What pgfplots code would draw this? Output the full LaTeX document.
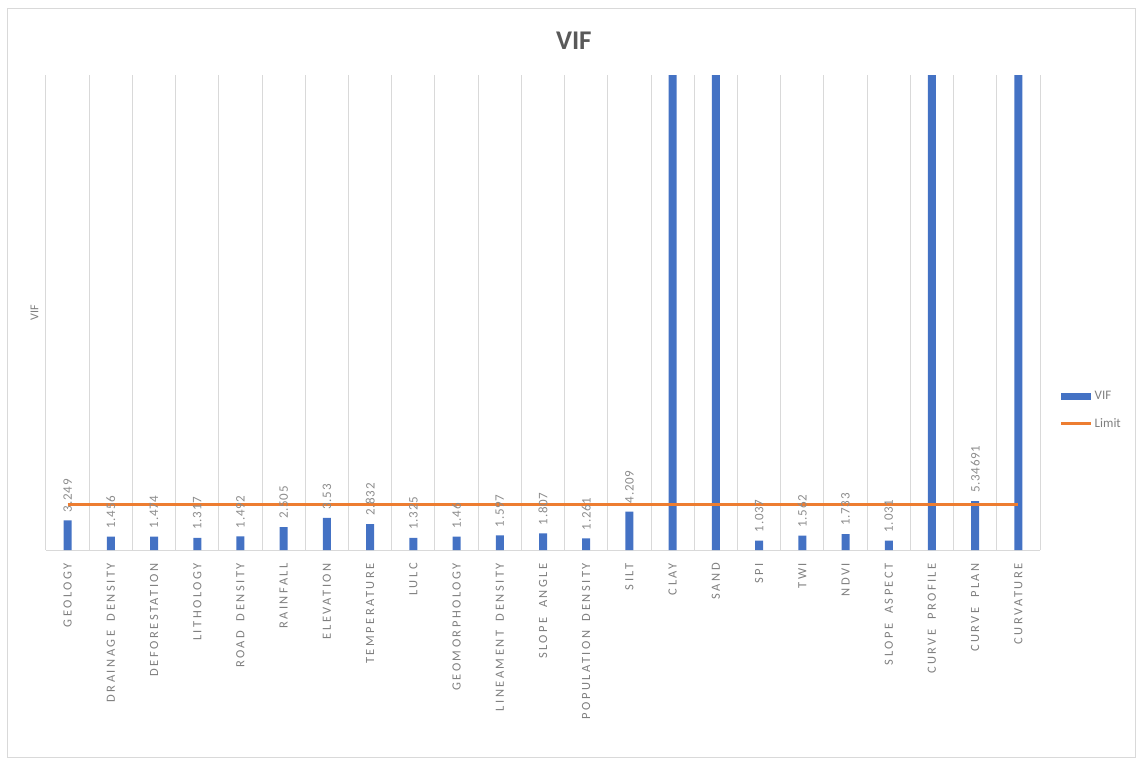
\documentclass[border=0pt]{standalone}
\usepackage{fontspec}
\setmainfont{Carlito}
\newfontfamily\tickfont{Carlito}[LetterSpace=20,WordSpace=1.8]
\newfontfamily\datafont{Carlito}[LetterSpace=6]
\usepackage{pgfplots}
\pgfplotsset{compat=1.18}
\usetikzlibrary{calc}
\definecolor{vifblue}{HTML}{4472C4}
\definecolor{limitorange}{HTML}{ED7D31}
\definecolor{gridgray}{HTML}{D9D9D9}
\definecolor{ticktext}{HTML}{7F7F7F}
\definecolor{datatext}{HTML}{8C8C8C}
\definecolor{titletext}{HTML}{595959}
\begin{document}
\begin{tikzpicture}
\begin{axis}[
  scale only axis, width=994pt, height=475pt,
  xmin=-0.5, xmax=22.5, ymin=0, ymax=52,
  axis x line*=bottom, axis y line*=left,
  x axis line style={draw=gridgray, -},
  y axis line style={draw=none},
  ytick=\empty,
  xtick={0,...,22},
  xticklabels={GEOLOGY,DRAINAGE DENSITY,DEFORESTATION,LITHOLOGY,ROAD DENSITY,RAINFALL,ELEVATION,TEMPERATURE,LULC,GEOMORPHOLOGY,LINEAMENT DENSITY,SLOPE ANGLE,POPULATION DENSITY,SILT,CLAY,SAND,SPI,TWI,NDVI,SLOPE ASPECT,CURVE PROFILE,CURVE PLAN,CURVATURE},
  minor xtick={-0.5,0.5,...,22.5},
  xminorgrids, minor grid style={gridgray, line width=1pt},
  major tick length=0pt, minor tick length=0pt,
  xticklabel style={rotate=90, anchor=east, inner xsep=13pt, inner ysep=0pt, text=ticktext,
    font=\tickfont\fontsize{12.5}{14}\selectfont},
  ylabel={VIF},
  ylabel style={at={(axis description cs:-0.004,0.5)}, anchor=south, text=ticktext, font=\fontsize{12}{14}\selectfont},
  title={VIF},
  title style={at={(axis description cs:0.531,1.059)}, anchor=center, text=titletext, font=\fontsize{27}{30}\selectfont\bfseries},
  legend style={at={(axis description cs:1.0201,0.2947)}, anchor=west, draw=none, fill=none,
    font=\fontsize{13}{15}\selectfont, text=ticktext, row sep=13pt, inner sep=0pt},
  legend cell align=left,
]
\coordinate (A) at (rel axis cs:0,0);
\addplot[ybar, bar width=8pt, bar shift=0pt, fill=vifblue, draw=none,
  nodes near coords, point meta=explicit symbolic,
  every node near coord/.append style={rotate=90, anchor=west, inner xsep=8pt, inner ysep=0pt,
    text=datatext, font=\datafont\fontsize{13}{15}\selectfont},
  legend image code/.code={\fill[vifblue] (0pt,-3.5pt) rectangle (30pt,3.5pt);}]
table[x=x, y=y, meta=lab] {
x y lab
0 3.249 3.249
1 1.456 1.456
2 1.474 1.474
3 1.317 1.317
4 1.492 1.492
5 2.505 2.505
6 3.53 3.53
7 2.832 2.832
8 1.325 1.325
9 1.46 1.46
10 1.597 1.597
11 1.807 1.807
12 1.261 1.261
13 4.209 4.209
16 1.037 1.037
17 1.562 1.562
18 1.733 1.733
19 1.031 1.031
21 5.34691 5.34691
};
\addlegendentry{VIF}
\addplot[ybar, bar width=8pt, bar shift=0pt, fill=vifblue, draw=none, forget plot]
coordinates {(14,60) (15,60) (20,60) (22,60)};
\addplot[limitorange, line width=2.5pt, mark=none,
  legend image code/.code={\draw[limitorange, line width=2.5pt] (0pt,0pt) -- (30pt,0pt);}]
coordinates {(0,5) (1,5) (2,5) (3,5) (4,5) (5,5) (6,5) (7,5) (8,5) (9,5) (10,5) (11,5) (12,5) (13,5) (14,5) (15,5) (16,5) (17,5) (18,5) (19,5) (20,5) (21,5) (22,5)};
\addlegendentry{Limit}
\end{axis}
\pgfresetboundingbox
\useasboundingbox ($(A)+(-46pt,-208pt)$) rectangle ($(A)+(1091pt,550pt)$);
\draw[gridgray] ($(A)+(-39pt,-207pt)$) rectangle ($(A)+(1089pt,542pt)$);
\end{tikzpicture}
\end{document}
